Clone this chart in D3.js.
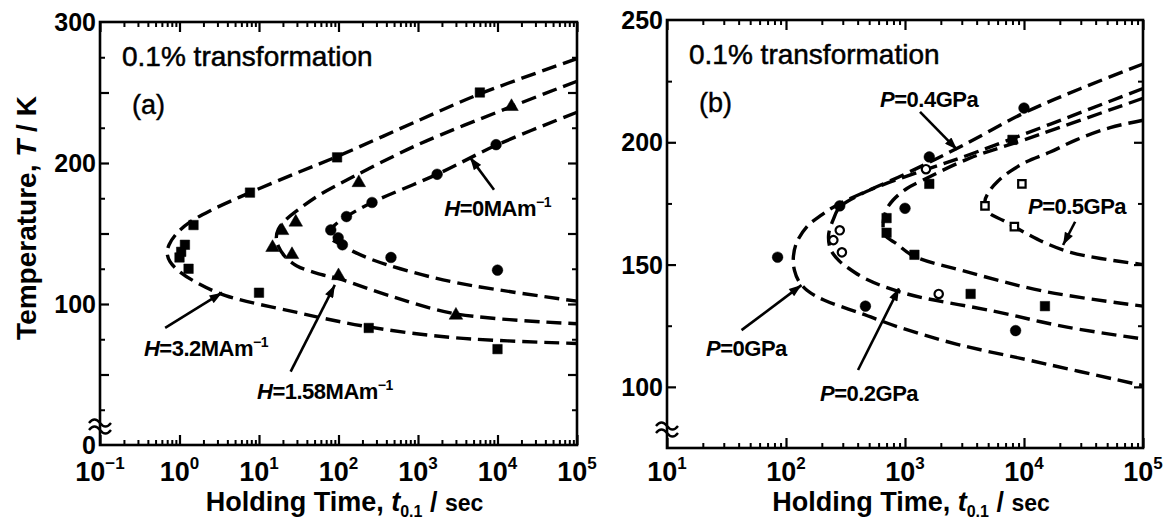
<!DOCTYPE html>
<html><head><meta charset="utf-8">
<script src="https://cdn.jsdelivr.net/npm/d3@7"></script>
<style>
body{margin:0;background:#fff;}
svg text{font-family:"Liberation Sans",Arial,Helvetica,sans-serif;fill:#000;}
</style></head><body>
<svg id="chart" width="1169" height="525"></svg>
<script>
// ---------------- DATA ----------------
// Panel (a): holding time (s) vs temperature (K)
const timeExpA = [-1, 0, 1, 2, 3, 4, 5];
const tempLabelsA = [0, 100, 200, 300];
// dashed C-curves, from upper end through the nose to lower end: [t, T]
const curveH32 = [[1e5,274],[6000,249],[1000,230],[100,205],[30,193],[7.7,179],[2.4,166],[1.35,158],[0.92,150],[0.74,142],[0.7,136],[0.76,130],[1.0,123],[1.8,114],[3.8,106],[30,94],[225,84],[3000,76],[1e5,72]];
const curveH158 = [[1e5,258],[1.5e4,240],[1000,213],[150,190],[60,178],[35,169],[22,160],[17.5,153],[16.5,147],[17.5,141],[21,134],[30,127],[60,121],[100,118],[430,106],[3000,93],[1e5,86]];
const curveH0 = [[1e5,236],[1e4,213],[1740,192],[264,172],[126,162],[90,156],[77,151],[82,146],[100,143],[150,137.5],[250,132],[600,125],[3100,115],[1e5,102]];
// measured points
const squaresH32 = [[1.0,133],[1.05,137],[1.17,142],[1.3,125],[1.5,156],[7.7,179],[10,108],[96,204],[240,83],[6000,250],[1e4,68]];
const trianglesH158 = [[14.8,140],[19.5,152],[26,135],[29,158],[100,120],[180,186],[3000,92],[1.5e4,240]];
const circlesH0 = [[80,152.5],[99,147],[112,142],[126,162],[264,172],[457,133],[1740,192],[9600,213],[1e4,124]];

// Panel (b)
const timeExpB = [1, 2, 3, 4, 5];
const tempLabelsB = [100, 150, 200, 250];
const curveP0 = [[1e5,232],[3e4,222],[1e4,212],[3000,198.5],[1000,187],[270,174.4],[195,170],[150,165.5],[122,158.6],[115,152],[118,147.5],[127,143.5],[150,139.5],[208,135.5],[430,130],[890,124.4],[2700,117.5],[11500,110.7],[1e5,100.5]];
const curveP02 = [[1e5,222],[3500,195],[1250,187.5],[650,182.6],[415,178.5],[283,173.5],[250,168.5],[228,162],[238,156],[280,151.5],[325,149],[475,144],[1040,138],[5500,131],[23000,124.4],[1e5,119.6]];
const curveP04 = [[1e5,218],[1e4,201],[3500,193.5],[1420,184.6],[1030,181],[795,176.4],[700,172.5],[655,167],[680,162],[850,158.5],[1180,153.5],[3330,147],[15000,139],[1e5,133]];
const curveP05 = [[1e5,209],[53000,206],[27500,201],[16600,196],[10500,192],[7600,188],[6000,184],[5200,180.5],[4700,176],[5000,171.5],[6700,168],[10500,162.7],[15500,158.6],[24600,155],[44000,152.5],[1e5,150]];
const circlesP0 = [[85,153],[283,174],[465,133],[1000,173],[1600,194],[8500,123],[1e4,214]];
const openCirclesP02 = [[250,160],[283,164],[295,155],[1500,189],[1920,138]];
const squaresP04 = [[700,169],[700,163],[1200,154],[1600,183],[3560,138],[8000,201],[15000,133]];
const openSquaresP05 = [[4700,174],[8300,165.5],[9600,183]];

// annotations: text anchor [t,T], arrow tail [t,T], arrow tip [t,T]
const annotA = [
  {lab:"H", val:"=0MAm", sup:"−1", at:[2140,162.4], from:[9040,181], to:[4510,204]},
  {lab:"H", val:"=3.2MAm", sup:"−1", at:[0.357,63], from:[0.66,83], to:[3.43,108]},
  {lab:"H", val:"=1.58MAm", sup:"−1", at:[9.44,32.6], from:[25,52], to:[90,113.5]}
];
const annotB = [
  {lab:"P", val:"=0.4GPa", sup:"", at:[617,214.4], from:[1337,212.4], to:[2735,197]},
  {lab:"P", val:"=0.5GPa", sup:"", at:[10800,170.7], from:[26900,167.5], to:[21300,158]},
  {lab:"P", val:"=0GPa", sup:"", at:[21.3,112.6], from:[42.3,123.2], to:[135,141.6]},
  {lab:"P", val:"=0.2GPa", sup:"", at:[193,94.2], from:[403,106.9], to:[891,140.3]}
];

// ---------------- DRAWING ----------------
const svg = d3.select("#chart");
svg.append("rect").attr("width",1169).attr("height",525).attr("fill","#fff");
const defs = svg.append("defs");
defs.append("marker").attr("id","ah").attr("viewBox","0 0 14 10").attr("refX",14).attr("refY",5)
  .attr("markerWidth",14).attr("markerHeight",9).attr("markerUnits","userSpaceOnUse").attr("orient","auto")
  .append("path").attr("d","M0,0L14,5L0,10z").attr("fill","#000");

const xA = d3.scaleLog().domain([0.1,1e5]).range([100,577]);
const yA = d3.scaleLinear().domain([0,300]).range([445,22]);
const xB = d3.scaleLog().domain([10,1e5]).range([667,1143]);
const yB = d3.scaleLinear().domain([75,250]).range([448,20]);

function panel(x, y, yMinorTicks, yLabels, expList, curves, markerSets, annots, tag, breakY) {
  const g = svg.append("g");
  const [x0,x1] = x.range(), [yb,yt] = y.range();
  // log ticks on bottom and top
  const all = x.ticks();
  const major = all.filter(v => Math.abs(Math.log10(v) - Math.round(Math.log10(v))) < 1e-9);
  const minor = all.filter(v => !major.includes(v));
  [[d3.axisBottom, yb],[d3.axisTop, yt]].forEach(([ax, ty]) => {
    g.append("g").attr("transform",`translate(0,${ty})`)
      .call(ax(x).tickValues(minor).tickSize(-5).tickFormat(""))
      .call(s => s.select(".domain").remove())
      .call(s => s.selectAll("line").attr("stroke","#000").attr("stroke-width",2));
    g.append("g").attr("transform",`translate(0,${ty})`)
      .call(ax(x).tickValues(major).tickSize(-10).tickFormat(""))
      .call(s => s.select(".domain").remove())
      .call(s => s.selectAll("line").attr("stroke","#000").attr("stroke-width",2.2));
  });
  // y ticks left & right
  [[d3.axisLeft, x0],[d3.axisRight, x1]].forEach(([ax, tx]) => {
    g.append("g").attr("transform",`translate(${tx},0)`)
      .call(ax(y).tickValues(yMinorTicks.filter(v => v % 50 !== 0)).tickSize(-5).tickFormat(""))
      .call(s => s.select(".domain").remove())
      .call(s => s.selectAll("line").attr("stroke","#000").attr("stroke-width",2));
    g.append("g").attr("transform",`translate(${tx},0)`)
      .call(ax(y).tickValues(yMinorTicks.filter(v => v % 50 === 0)).tickSize(-9).tickFormat(""))
      .call(s => s.select(".domain").remove())
      .call(s => s.selectAll("line").attr("stroke","#000").attr("stroke-width",2.2));
  });
  // frame
  g.append("rect").attr("x",x0).attr("y",yt).attr("width",x1-x0).attr("height",yb-yt)
    .attr("fill","none").attr("stroke","#000").attr("stroke-width",2.6);
  // axis break symbol
  [0,7].forEach(d => g.append("path")
    .attr("d",`M${x0-11},${breakY+d+2} q5.5,-7 11,0 t11,0`)
    .attr("fill","none").attr("stroke","#000").attr("stroke-width",2.4));
  // x tick labels
  expList.forEach(e => {
    const t = g.append("text").attr("x", x(Math.pow(10,e))).attr("y", 481)
      .attr("text-anchor","middle").attr("font-size",27).attr("font-weight","bold");
    t.append("tspan").text("10");
    t.append("tspan").attr("dy",-12).attr("font-size",17).text(e < 0 ? "−" + (-e) : String(e));
  });
  // y tick labels
  yLabels.forEach(v => g.append("text").attr("x", x0-4).attr("y", y(v)).attr("dy","0.36em")
    .attr("text-anchor","end").attr("font-size",25).attr("font-weight","bold").text(v));
  // curves
  const line = d3.line().x(d => x(d[0])).y(d => y(d[1])).curve(d3.curveCatmullRom.alpha(0.5));
  curves.forEach(c => g.append("path").attr("d", line(c)).attr("fill","none")
    .attr("stroke","#000").attr("stroke-width",3.4).attr("stroke-dasharray","15,7"));
  // markers
  markerSets.forEach(ms => {
    g.selectAll(null).data(ms.data).join("path")
      .attr("transform", d => `translate(${x(d[0])},${y(d[1])})`)
      .attr("d", d3.symbol().type(ms.type).size(ms.size))
      .attr("fill", ms.open ? "#fff" : "#000").attr("stroke","#000").attr("stroke-width", ms.open ? 2.2 : 0.5);
  });
  // annotations
  annots.forEach(a => {
    g.append("line").attr("x1",x(a.from[0])).attr("y1",y(a.from[1]))
      .attr("x2",x(a.to[0])).attr("y2",y(a.to[1]))
      .attr("stroke","#000").attr("stroke-width",2.6).attr("marker-end","url(#ah)");
    const t = g.append("text").attr("x",x(a.at[0])).attr("y",y(a.at[1]))
      .attr("font-size",22).attr("font-weight","bold").attr("letter-spacing","-0.5");
    t.append("tspan").attr("font-style","italic").text(a.lab);
    t.append("tspan").text(a.val);
    if (a.sup) t.append("tspan").attr("dy",-9).attr("font-size",14).text(a.sup);
  });
  // panel text
  g.append("text").attr("x",x0+22).attr("y",yt+44).attr("font-size",28)
    .attr("stroke","#000").attr("stroke-width",0.5).text("0.1% transformation");
  g.append("text").attr("x",x0+32).attr("y",yt+92).attr("font-size",27)
    .attr("stroke","#000").attr("stroke-width",0.4).text(tag);
  // x axis title
  const xt = g.append("text").attr("x",(x0+x1)/2+6).attr("y",511).attr("text-anchor","middle")
    .attr("font-size",27).attr("font-weight","bold");
  xt.append("tspan").text("Holding Time, ");
  xt.append("tspan").attr("font-style","italic").text("t");
  xt.append("tspan").attr("dy",6).attr("font-size",16).text("0.1");
  xt.append("tspan").attr("dy",-6).text(" / ");
  xt.append("tspan").attr("font-size",23).text("sec");
  return g;
}

const yMinorA = d3.range(25, 300, 25);
const yMinorB = d3.range(100, 250, 25);

panel(xA, yA, yMinorA, tempLabelsA, timeExpA, [curveH32, curveH158, curveH0], [
  {data: squaresH32, type: d3.symbolSquare, size: 90, open: false},
  {data: trianglesH158, type: d3.symbolTriangle, size: 80, open: false},
  {data: circlesH0, type: d3.symbolCircle, size: 90, open: false}
], annotA, "(a)", 421);

panel(xB, yB, yMinorB, tempLabelsB, timeExpB, [curveP0, curveP02, curveP04, curveP05], [
  {data: circlesP0, type: d3.symbolCircle, size: 90, open: false},
  {data: openCirclesP02, type: d3.symbolCircle, size: 55, open: true},
  {data: squaresP04, type: d3.symbolSquare, size: 90, open: false},
  {data: openSquaresP05, type: d3.symbolSquare, size: 55, open: true}
], annotB, "(b)", 424);

// y axis title (left only)
const yt = svg.append("text").attr("transform","translate(36,218) rotate(-90)")
  .attr("text-anchor","middle").attr("font-size",28).attr("font-weight","bold");
yt.append("tspan").text("Temperature, ");
yt.append("tspan").attr("font-style","italic").text("T");
yt.append("tspan").text(" / K");
</script>
</body></html>
